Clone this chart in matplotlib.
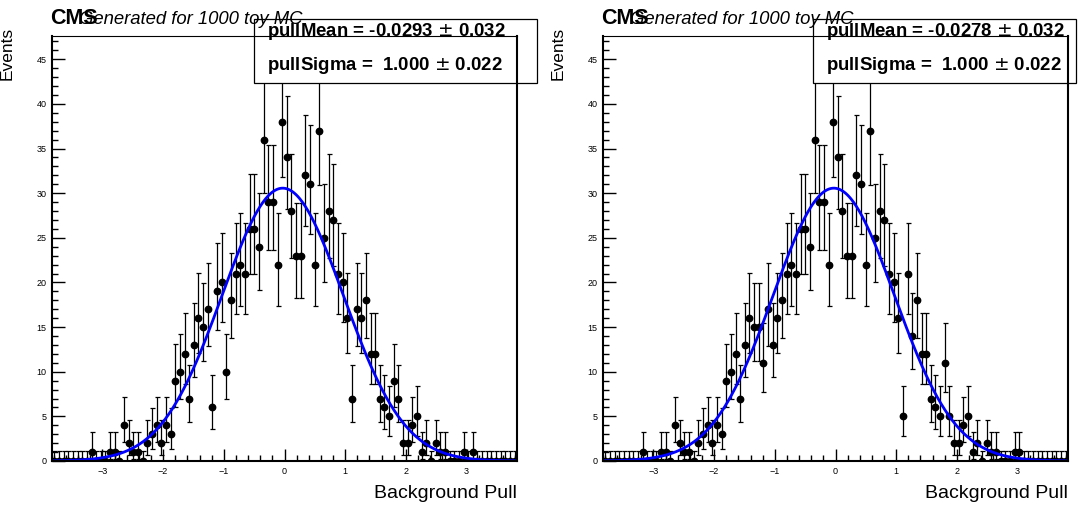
import numpy as np
import matplotlib
matplotlib.use("Agg")
import matplotlib.pyplot as plt
from matplotlib.patches import Rectangle
from matplotlib.ticker import MultipleLocator
from math import exp, log, lgamma

plt.rcParams['font.family'] = ['Liberation Sans', 'DejaVu Sans']

# pull histogram binning
x_lo, x_hi, n_bins = -3.83, 3.83, 100
n_toys = 1000

counts_left = [0, 0, 0, 0, 0, 0, 0, 0, 1, 0,
               0, 0, 1, 1, 0, 4, 2, 1, 1, 0,
               2, 3, 4, 2, 4, 3, 9, 10, 12, 7,
               13, 16, 15, 17, 6, 19, 20, 10, 18, 21,
               22, 21, 26, 26, 24, 36, 29, 29, 22, 38,
               34, 28, 23, 23, 32, 31, 22, 37, 25, 28,
               27, 21, 20, 16, 7, 17, 16, 18, 12, 12,
               7, 6, 5, 9, 7, 2, 2, 4, 5, 1,
               2, 0, 2, 1, 1, 0, 0, 0, 1, 0,
               1, 0, 0, 0, 0, 0, 0, 0, 0, 0]

counts_right = [0, 0, 0, 0, 0, 0, 0, 0, 1, 0,
                0, 0, 1, 1, 0, 4, 2, 1, 1, 0,
                2, 3, 4, 2, 4, 3, 9, 10, 12, 7,
                13, 16, 15, 15, 11, 17, 13, 16, 18, 21,
                22, 21, 26, 26, 24, 36, 29, 29, 22, 38,
                34, 28, 23, 23, 32, 31, 22, 37, 25, 28,
                27, 21, 20, 16, 5, 21, 14, 18, 12, 12,
                7, 6, 5, 11, 5, 2, 2, 4, 5, 1,
                2, 0, 2, 1, 1, 0, 0, 0, 1, 1,
                0, 0, 0, 0, 0, 0, 0, 0, 0, 0]

fit_mean = [-0.0293, -0.0278]
fit_mean_err = [0.032, 0.032]
fit_sigma = [1.000, 1.000]
fit_sigma_err = [0.022, 0.022]


def pois_cdf(n, mu):
    if n < 0:
        return 0.0
    return sum(exp(-mu + k * log(mu) - lgamma(k + 1)) for k in range(n + 1))


def solve(f, target, lo, hi):
    # f decreasing in mu
    for _ in range(80):
        mid = 0.5 * (lo + hi)
        if f(mid) > target:
            lo = mid
        else:
            hi = mid
    return 0.5 * (lo + hi)


def poisson_errors(counts):
    lo_err, hi_err = [], []
    for n in counts:
        if n == 0:
            lo_err.append(0.0)
            hi_err.append(1.148)
            continue
        up = solve(lambda m: pois_cdf(n, m), 0.158655, 1e-6, n + 30)
        dn = solve(lambda m: pois_cdf(n - 1, m), 0.841345, 1e-6, n + 30)
        lo_err.append(n - dn)
        hi_err.append(up - n)
    return np.array(lo_err), np.array(hi_err)


fig = plt.figure(figsize=(10.78, 5.07), dpi=100)
W, H = 1078.0, 507.0

edges = np.linspace(x_lo, x_hi, n_bins + 1)
centers = 0.5 * (edges[:-1] + edges[1:])
bw = edges[1] - edges[0]

panels = [
    (52, counts_left, 0, 254, 537, 267),
    (603, counts_right, 1, 813, 1076, 826),
]

for ax_left, counts, i, box_l, box_r, txt_x in panels:
    ax = fig.add_axes([ax_left / W, (H - 461) / H, 465 / W, 425 / H])
    lo_err, hi_err = poisson_errors(counts)
    ax.errorbar(centers, counts, yerr=[lo_err, hi_err], fmt='o', color='black',
                markersize=4.6, elinewidth=0.9, capsize=1.8, capthick=0.9, zorder=2)
    xs = np.linspace(x_lo, x_hi, 500)
    norm = n_toys * bw / (np.sqrt(2 * np.pi) * fit_sigma[i])
    ax.plot(xs, norm * np.exp(-0.5 * ((xs - fit_mean[i]) / fit_sigma[i]) ** 2),
            color='#0000ff', lw=2.0, zorder=2.1)

    ax.set_xlim(x_lo, x_hi)
    ax.set_ylim(0, 47.6)
    ax.xaxis.set_major_locator(MultipleLocator(1))
    ax.xaxis.set_minor_locator(MultipleLocator(0.2))
    ax.yaxis.set_major_locator(MultipleLocator(5))
    ax.yaxis.set_minor_locator(MultipleLocator(1))
    ax.tick_params(which='both', direction='in', top=False, right=False,
                   labelsize=6.5, width=1.0, pad=4)
    ax.tick_params(which='major', length=9)
    ax.tick_params(which='minor', length=4.5)
    for side in ['left', 'bottom', 'right']:
        ax.spines[side].set_linewidth(1.5)
    ax.spines['top'].set_linewidth(0.8)

    # fit result box
    box = Rectangle((box_l / W, (H - 83) / H), (box_r - box_l) / W, 64 / H,
                    transform=fig.transFigure, facecolor='white', edgecolor='black',
                    lw=0.9, clip_on=False, zorder=2.3)
    ax.add_patch(box)
    ax.text(txt_x / W, (H - 36.5) / H,
            'pullMean = %.4f $\\pm$ %.3f' % (fit_mean[i], fit_mean_err[i]),
            transform=fig.transFigure, fontsize=13.4, fontweight='bold',
            va='baseline', ha='left', zorder=3, clip_on=False)
    ax.text(txt_x / W, (H - 70) / H,
            'pullSigma =  %.3f $\\pm$ %.3f' % (fit_sigma[i], fit_sigma_err[i]),
            transform=fig.transFigure, fontsize=13.4, fontweight='bold',
            va='baseline', ha='left', zorder=3, clip_on=False)

    off = ax_left - 52
    fig.text((50 + off) / W, (H - 24) / H, 'CMS', fontsize=15.5, fontweight='bold',
             va='baseline', ha='left')
    fig.text((79 + off) / W, (H - 24) / H, 'Generated for 1000 toy MC',
             fontsize=13.3, style='italic', va='baseline', ha='left')
    fig.text((7 + off) / W, (H - 27) / H, 'Events', fontsize=12.5, rotation=90,
             ha='center', va='top')
    fig.text((517 + off) / W, (H - 498) / H, 'Background Pull', fontsize=14,
             ha='right', va='baseline')

fig.savefig('out.png', dpi=100)
